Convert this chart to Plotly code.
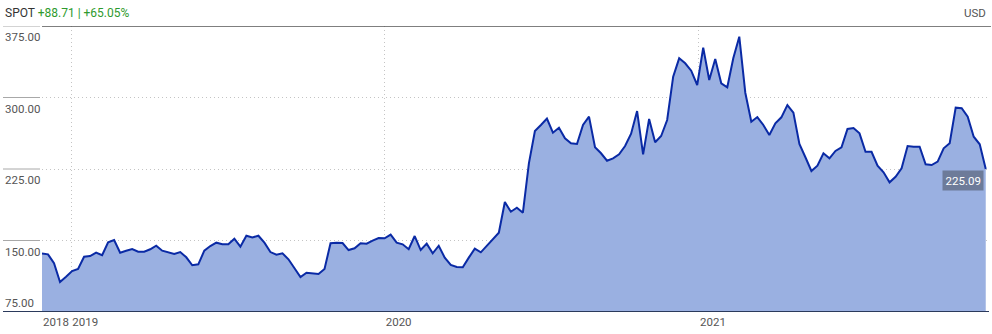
import pandas as pd
import plotly.graph_objects as go

# ---- data (weekly closes) ----
start_date = "2018-11-28"
n_weeks = 158
range_end = "2021-12-04 19:00"
prices = [
    136.38, 135.5, 126.1, 106.5, 112.0, 118.0, 120.1, 133.0, 133.7, 137.2,
    134.5, 148.1, 150.5, 137.2, 139.3, 141.1, 138.3, 138.3, 140.8, 144.5,
    139.3, 137.9, 135.8, 137.9, 132.4, 124.0, 125.0, 139.3, 144.2, 147.7,
    146.0, 146.0, 151.9, 143.5, 155.0, 153.3, 155.0, 147.7, 137.9, 135.1,
    136.6, 130.3, 120.4, 111.7, 116.2, 115.2, 114.9, 120.1, 147.1, 147.7,
    147.4, 140.0, 141.8, 147.1, 146.7, 149.8, 152.6, 152.3, 156.1, 147.7,
    146.0, 140.8, 154.7, 140.0, 146.7, 136.6, 144.5, 132.0, 124.3, 122.2,
    121.9, 132.0, 141.4, 137.6, 144.2, 151.6, 158.2, 190.4, 180.2, 184.4,
    179.2, 231.0, 264.9, 271.2, 277.8, 263.1, 268.3, 257.2, 252.0, 251.2,
    271.2, 279.9, 247.8, 241.5, 233.7, 236.2, 240.4, 249.1, 262.0, 285.8,
    240.4, 277.5, 253.0, 259.6, 276.4, 321.8, 341.1, 335.9, 328.1, 313.1,
    352.3, 318.4, 340.4, 314.9, 310.7, 341.1, 363.8, 305.0, 274.6, 279.5,
    271.2, 260.7, 272.9, 279.2, 292.1, 284.1, 251.2, 237.3, 222.9, 228.5,
    241.5, 236.2, 243.9, 247.8, 267.0, 268.0, 262.4, 243.1, 243.1, 228.5,
    221.5, 211.0, 216.9, 225.7, 249.1, 248.4, 248.4, 229.9, 229.2, 232.7,
    246.7, 252.0, 289.3, 288.7, 279.9, 258.9, 250.9, 225.09,
]
ticker = "SPOT"
change_abs = "+88.71"
change_pct = "+65.05%"
currency = "USD"
y_ticks = [75, 150, 225, 300, 375]
x_tick_dates = ["2019-01-01", "2020-01-01", "2021-01-01"]
x_tick_text = ["2018", "2019", "2020", "2021"]

dates = pd.date_range(start=start_date, periods=n_weeks, freq="7D")

# ---- styling ----
FONT = "Roboto, Liberation Sans, Arial, sans-serif"
W, H = 992, 334
ML, MR, MT, MB = 0, 3, 26, 22
plot_w = W - ML - MR
dom0 = 42 / plot_w
GRID = "#c4c4c4"

fig = go.Figure()
fig.add_trace(go.Scatter(
    x=dates, y=prices, mode="lines",
    line=dict(color="#0a2aa5", width=2),
    fill="tozeroy", fillcolor="#9ab0e1",
    hoverinfo="x+y",
))

fig.update_layout(
    width=W, height=H,
    margin=dict(l=ML, r=MR, t=MT, b=MB, autoexpand=False),
    paper_bgcolor="white", plot_bgcolor="white",
    showlegend=False,
    font=dict(family=FONT, size=11, color="#555555"),
    xaxis=dict(
        domain=[dom0, 1],
        range=[dates[0], pd.Timestamp(range_end)],
        tickvals=[dates[0]] + [pd.Timestamp(d) for d in x_tick_dates],
        ticktext=x_tick_text,
        tickangle=0,
        showgrid=True, gridcolor=GRID, griddash="1px,3px", gridwidth=1,
        showline=False, zeroline=False, ticks="",
        tickfont=dict(family=FONT, size=11.5, color="#555555"),
        ticklabelshift=14,
        ticklabelstandoff=1,
    ),
    yaxis=dict(
        range=[75, 375],
        tickvals=y_ticks,
        showticklabels=False,
        showgrid=True, gridcolor=GRID, griddash="1px,3px", gridwidth=1,
        showline=False, zeroline=False, ticks="",
    ),
)

shapes = []
# short solid lines beside each y tick label
for v in y_ticks[1:]:
    shapes.append(dict(type="line", xref="paper", yref="y",
                       x0=3 / plot_w, x1=dom0 - 2 / plot_w, y0=v, y1=v,
                       line=dict(color="#a8a8a8", width=1)))
# top border
shapes.append(dict(type="line", xref="paper", yref="y",
                   x0=dom0, x1=1.002, y0=y_ticks[-1], y1=y_ticks[-1],
                   line=dict(color="#555555", width=1.5)))
# bottom axis line
shapes.append(dict(type="line", xref="paper", yref="y",
                   x0=3 / plot_w, x1=1, y0=y_ticks[0], y1=y_ticks[0],
                   line=dict(color="#2b3a5c", width=2)))
fig.update_layout(shapes=shapes)

annotations = []
for v in y_ticks:
    bottom = v == y_ticks[0]
    annotations.append(dict(
        xref="paper", yref="y", x=3 / plot_w, y=v,
        text=f"{v:.2f}", showarrow=False,
        xanchor="left", yanchor="bottom" if bottom else "top",
        yshift=0 if bottom else -2,
        font=dict(family=FONT, size=11.5, color="#555555"),
    ))
# header
annotations.append(dict(
    xref="paper", yref="paper", x=3 / plot_w, y=1, yshift=13,
    xanchor="left", yanchor="middle", showarrow=False,
    text=f"<span style='color:#333333'>{ticker}</span> "
         f"<span style='color:#2e9a2e'>{change_abs} | {change_pct}</span>",
    font=dict(family=FONT, size=12),
))
annotations.append(dict(
    xref="paper", yref="paper", x=1, y=1, yshift=13, xshift=-1,
    xanchor="right", yanchor="middle", showarrow=False,
    text=currency, font=dict(family=FONT, size=11.5, color="#555555"),
))
# last value badge
annotations.append(dict(
    x=dates[-1], y=prices[-1], xref="x", yref="y",
    text=f"{prices[-1]:.2f}", showarrow=False,
    xanchor="right", yanchor="top", xshift=-2, yshift=-1,
    bgcolor="#6d7b99", borderpad=2.5,
    font=dict(family=FONT, size=11.5, color="white"),
))
fig.update_layout(annotations=annotations)

fig.write_html("out.html")
